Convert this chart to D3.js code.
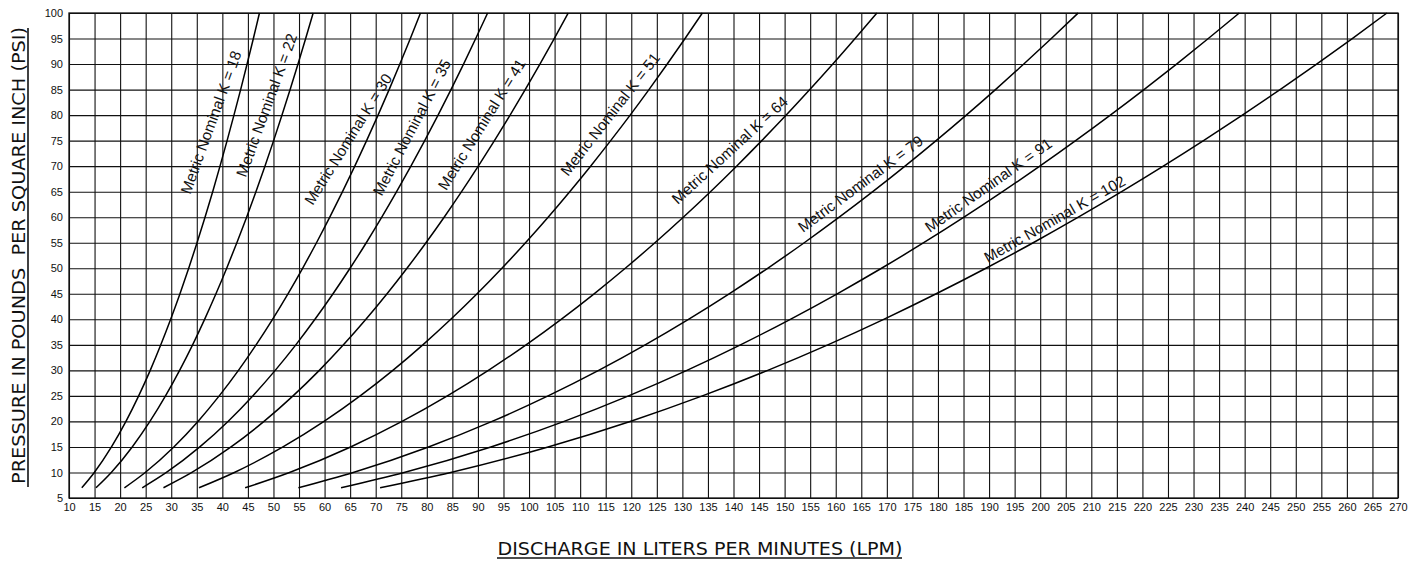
<!DOCTYPE html>
<html>
<head>
<meta charset="utf-8">
<script src="https://cdn.jsdelivr.net/npm/d3@7"></script>
<style>
  html, body { margin: 0; padding: 0; background: #fff; }
  svg { display: block; }
</style>
</head>
<body>
<svg id="chart" width="1424" height="562"></svg>
<script>
// ---------- DATA ----------
const pressures = [7, 10, 15, 20, 25, 30, 35, 40, 45, 50, 55, 60, 65, 70, 75, 80, 85, 90, 95, 100];

const kFactors = [18, 22, 30, 35, 41, 51, 64, 79, 91, 102];

const flowK18  = [12.50, 14.95, 18.31, 21.14, 23.63, 25.89, 27.96, 29.89, 31.71, 33.42, 35.05, 36.61, 38.11, 39.54, 40.93, 42.27, 43.58, 44.84, 46.07, 47.26];
const flowK22  = [15.28, 18.27, 22.37, 25.83, 28.88, 31.64, 34.18, 36.53, 38.75, 40.85, 42.84, 44.75, 46.57, 48.33, 50.03, 51.67, 53.26, 54.80, 56.30, 57.77];
const flowK30  = [20.84, 24.91, 30.51, 35.23, 39.39, 43.15, 46.60, 49.82, 52.84, 55.70, 58.42, 61.02, 63.51, 65.91, 68.22, 70.46, 72.63, 74.73, 76.78, 78.77];
const flowK35  = [24.32, 29.06, 35.59, 41.10, 45.95, 50.34, 54.37, 58.12, 61.65, 64.98, 68.16, 71.19, 74.09, 76.89, 79.59, 82.20, 84.73, 87.19, 89.57, 91.90];
const flowK41  = [28.48, 34.04, 41.70, 48.15, 53.83, 58.97, 63.69, 68.09, 72.22, 76.12, 79.84, 83.39, 86.80, 90.07, 93.23, 96.29, 99.25, 102.13, 104.93, 107.66];
const flowK51  = [35.43, 42.35, 51.86, 59.89, 66.96, 73.35, 79.22, 84.69, 89.83, 94.69, 99.31, 103.73, 107.96, 112.04, 115.97, 119.78, 123.46, 127.04, 130.52, 133.91];
const flowK64  = [44.46, 53.14, 65.09, 75.15, 84.02, 92.04, 99.42, 106.28, 112.73, 118.83, 124.63, 130.17, 135.49, 140.60, 145.53, 150.31, 154.93, 159.43, 163.79, 168.05];
const flowK79  = [54.88, 65.60, 80.34, 92.77, 103.72, 113.62, 122.72, 131.19, 139.15, 146.68, 153.84, 160.68, 167.24, 173.55, 179.64, 185.54, 191.25, 196.79, 202.18, 207.44];
const flowK91  = [63.22, 75.56, 92.54, 106.86, 119.47, 130.88, 141.36, 151.12, 160.29, 168.96, 177.21, 185.09, 192.64, 199.92, 206.93, 213.72, 220.30, 226.68, 232.89, 238.95];
const flowK102 = [70.86, 84.69, 103.73, 119.78, 133.91, 146.70, 158.45, 169.39, 179.66, 189.38, 198.63, 207.46, 215.93, 224.08, 231.95, 239.55, 246.93, 254.08, 261.05, 267.83];

const xTicks = d3.range(10, 271, 5);   // 10 .. 270 LPM
const yTicks = d3.range(5, 101, 5);    // 5 .. 100 PSI

const labelPrefix = "Metric Nominal K = ";
const xTitle = "DISCHARGE IN LITERS PER MINUTES (LPM)";
const yTitle = "PRESSURE IN POUNDS\u00A0\u00A0PER SQUARE INCH (PSI)";

// ---------- LAYOUT ----------
const series = [flowK18, flowK22, flowK30, flowK35, flowK41, flowK51, flowK64, flowK79, flowK91, flowK102]
  .map((flows, i) => ({ k: kFactors[i], pts: flows.map((q, j) => [q, pressures[j]]) }));

// label anchor (baseline start, in data units) and rotation, per curve
const labelLayout = [
  { x: 33.7,  y: 64.35, a: 70 },
  { x: 44.6,  y: 67.7,  a: 70 },
  { x: 57.7,  y: 62.2,  a: 58 },
  { x: 71.2,  y: 64.0,  a: 62.5 },
  { x: 83.8,  y: 65.1,  a: 58 },
  { x: 107.6, y: 67.9,  a: 52 },
  { x: 129.1, y: 62.4,  a: 42.5 },
  { x: 153.6, y: 56.9,  a: 36.5 },
  { x: 178.4, y: 56.9,  a: 35.2 },
  { x: 189.8, y: 51.0,  a: 29.7 }
];

const svg = d3.select("#chart");
const L = 69, R = 1398, T = 13, B = 498;

const x = d3.scaleLinear().domain([10, 270]).range([L, R]);
const y = d3.scaleLinear().domain([5, 100]).range([B, T]);

const font = "'Liberation Sans', Arial, Helvetica, sans-serif";

// grid
const gx = svg.append("g").attr("transform", `translate(0,${B})`)
  .call(d3.axisBottom(x).tickValues(xTicks).tickSize(-(B - T)).tickSizeOuter(0).tickPadding(5).tickFormat(d3.format("d")));
const gy = svg.append("g").attr("transform", `translate(${L},0)`)
  .call(d3.axisLeft(y).tickValues(yTicks).tickSize(-(R - L)).tickSizeOuter(0).tickPadding(6).tickFormat(d3.format("d")));

[gx, gy].forEach(g => {
  g.select(".domain").remove();
  g.selectAll(".tick line").attr("stroke", "#111").attr("stroke-width", 1.1);
  g.selectAll(".tick text").attr("fill", "#111").style("font-family", font).style("font-size", "11px");
});

// frame
svg.append("rect").attr("x", L).attr("y", T).attr("width", R - L).attr("height", B - T)
  .attr("fill", "none").attr("stroke", "#111").attr("stroke-width", 1.3);

// curves
const line = d3.line().x(d => x(d[0])).y(d => y(d[1])).curve(d3.curveMonotoneX);
svg.append("g").selectAll("path").data(series).join("path")
  .attr("d", d => line(d.pts))
  .attr("fill", "none").attr("stroke", "#000").attr("stroke-width", 1.5);

// curve labels
svg.append("g").selectAll("text").data(series).join("text")
  .attr("transform", (d, i) => `translate(${x(labelLayout[i].x)},${y(labelLayout[i].y)}) rotate(${-labelLayout[i].a})`)
  .style("font-family", font).style("font-size", "15.3px").attr("fill", "#111")
  .text(d => labelPrefix + d.k);

// axis titles
const titleFont = "'DejaVu Sans', 'Open Sans', sans-serif";
svg.append("text").attr("x", 700).attr("y", 555).attr("text-anchor", "middle")
  .style("font-family", titleFont).style("font-size", "17px").attr("fill", "#111")
  .attr("textLength", 405).attr("lengthAdjust", "spacingAndGlyphs")
  .text(xTitle);
svg.append("line").attr("x1", 497).attr("x2", 902).attr("y1", 558).attr("y2", 558)
  .attr("stroke", "#111").attr("stroke-width", 1.6);

svg.append("text").attr("transform", `translate(25,${(T + B) / 2}) rotate(-90)`).attr("text-anchor", "middle")
  .style("font-family", titleFont).style("font-size", "18px").attr("fill", "#111")
  .attr("textLength", 457).attr("lengthAdjust", "spacingAndGlyphs")
  .text(yTitle);
svg.append("line").attr("x1", 28).attr("x2", 28).attr("y1", 28).attr("y2", 487)
  .attr("stroke", "#111").attr("stroke-width", 1.6);
</script>
</body>
</html>
